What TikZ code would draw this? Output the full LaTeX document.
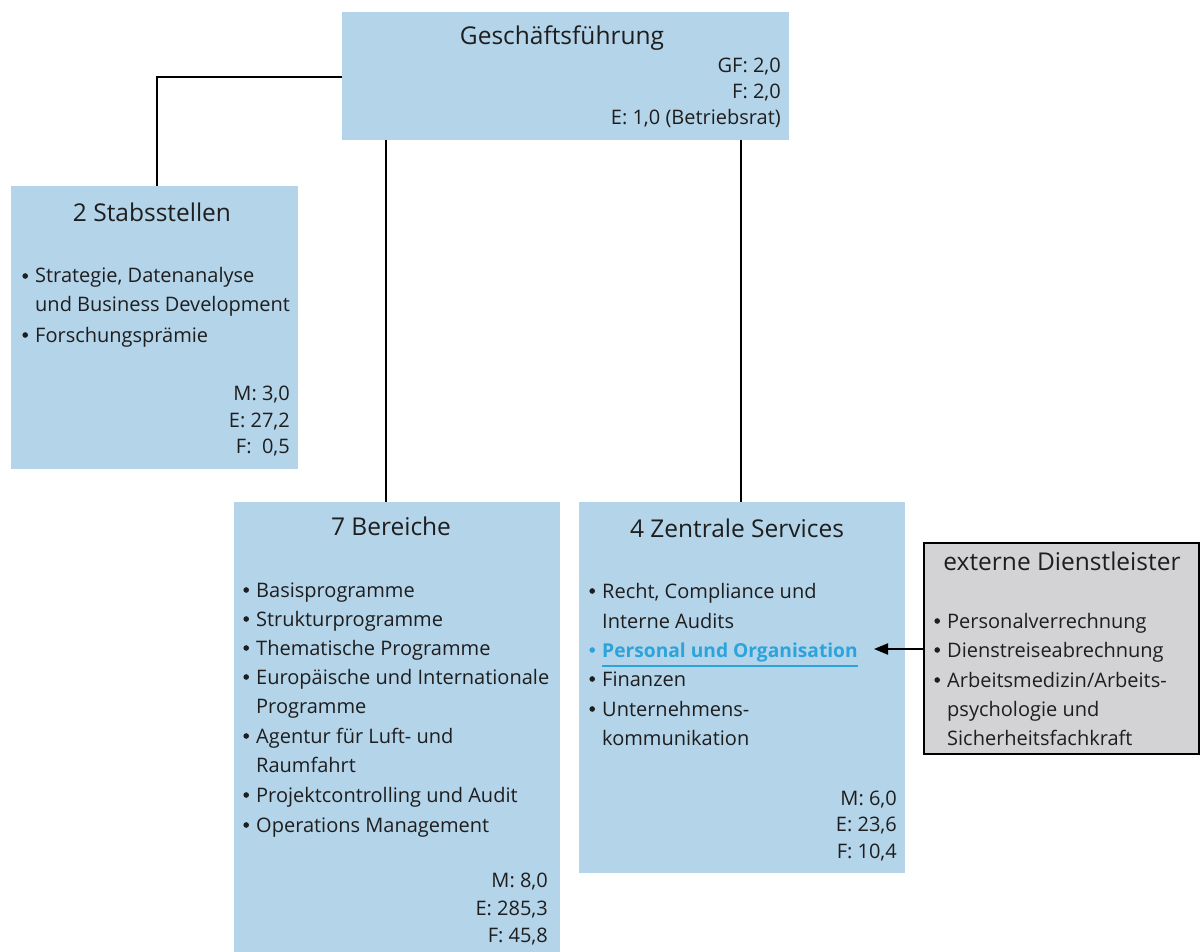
\documentclass[tikz,border=0pt]{standalone}
\usepackage{fontspec}
\setmainfont{Open Sans}
\usetikzlibrary{arrows.meta}
\definecolor{boxblue}{HTML}{B4D4EA}
\definecolor{boxgrey}{HTML}{D3D3D5}
\definecolor{hl}{HTML}{2BA3DB}
\definecolor{ink}{HTML}{1E1E1E}
\tikzset{
  box/.style={fill=boxblue, draw=none, anchor=north west, inner sep=0pt},
  extbox/.style={fill=boxgrey, draw=black, line width=2pt, anchor=north west, inner sep=0pt},
  txt/.style={inner sep=0pt, anchor=base west, text=ink, font=\fontsize{20}{24}\selectfont},
  rtxt/.style={inner sep=0pt, anchor=base east, text=ink, font=\fontsize{20}{24}\selectfont},
  ttl/.style={inner sep=0pt, anchor=base, text=ink, font=\fontsize{24.5}{28}\selectfont},
  conn/.style={line width=2pt, draw=black},
}
\newcommand{\dotmark}[1]{\llap{\tikz[baseline=0pt]\fill[#1] (0pt,7pt) circle[radius=2.8pt];\hspace{7.2pt}}}
\newcommand{\bulmark}[1]{\ifnum#1=1\dotmark{ink}\fi}
\begin{document}
\begin{tikzpicture}[x=1pt,y=-1pt]
\useasboundingbox (0,0) rectangle (1200,952);
% boxes
\node[box, minimum width=447, minimum height=128] (gf) at (342,12) {};
\node[box, minimum width=287, minimum height=283] (stab) at (11,186) {};
\node[box, minimum width=326, minimum height=451] (ber) at (234,502) {};
\node[box, minimum width=326, minimum height=371] (zs) at (579,502) {};
\node[extbox, minimum width=275, minimum height=211] (ext) at (923,542) {};
% connectors
\coordinate (stabtop) at (157,186);
\coordinate (gfleft) at (342,77);
\draw[conn] (gfleft) -| (stabtop);
\coordinate (gfb1) at (386,140);
\coordinate (gfb2) at (741,140);
\draw[conn] (gfb1) -- (gfb1 |- ber.north);
\draw[conn] (gfb2) -- (gfb2 |- zs.north);
\coordinate (arrtip) at (874,649);
\draw[conn, -{Triangle[length=14pt,width=11pt]}] (ext.west |- arrtip) -- (arrtip);
% GF
\node[ttl] (gft) at (562,45) {Geschäftsführung};
\node[rtxt] (gf1) at (781,73) {GF: 2,0};
\node[rtxt] (gf2) at (781,99) {F: 2,0};
\node[rtxt] (gf3) at (781,125) {E: 1,0 (Betriebsrat)};
% Stabsstellen
\node[ttl] (stabt) at (152,222) {2 Stabsstellen};
\foreach \y/\t/\b [count=\i] in {283/{Strategie, Datenanalyse}/1, 312/{und Business Development}/0, 342/{Forschungsprämie}/1}
  \node[txt] (stab\i) at (35,\y) {\bulmark{\b}\t};
\node[rtxt] (stabm) at (290,400) {M: 3,0};
\node[rtxt] (stabe) at (290,427) {E: 27,2};
\node[rtxt] (stabf) at (290,453) {F:\ \ 0,5};
% Bereiche
\node[ttl] (bert) at (391,535) {7 Bereiche};
\foreach \y/\t/\b [count=\i] in {597/Basisprogramme/1, 626/Strukturprogramme/1, 655/Thematische Programme/1, 684/Europäische und Internationale/1, 713/Programme/0, 743/Agentur für Luft- und/1, 772/Raumfahrt/0, 802/Projektcontrolling und Audit/1, 832/Operations Management/1}
  \node[txt] (ber\i) at (256,\y) {\bulmark{\b}\t};
\node[rtxt] (berm) at (548,887) {M: 8,0};
\node[rtxt] (bere) at (548,915) {E: 285,3};
\node[rtxt] (berf) at (548,942) {F: 45,8};
% Zentrale Services
\node[ttl] (zst) at (737,537) {4 Zentrale Services};
\foreach \y/\t/\b [count=\i] in {598/{Recht, Compliance und}/1, 628/Interne Audits/0, 686/Finanzen/1, 716/Unternehmens-/1, 745/kommunikation/0}
  \node[txt] (zs\i) at (602,\y) {\bulmark{\b}\t};
\node[txt, text=hl, font=\fontsize{19.2}{24}\selectfont\bfseries] (pers) at (602,657) {\dotmark{hl}Personal und Organisation};
\draw[hl, line width=2pt] ([yshift=-9pt]pers.base west) -- ([yshift=-9pt]pers.base east);
\node[rtxt] (zsm) at (897,805) {M: 6,0};
\node[rtxt] (zse) at (897,831) {E: 23,6};
\node[rtxt] (zsf) at (897,858) {F: 10,4};
% externe Dienstleister
\node[ttl] (extt) at (1062,570) {externe Dienstleister};
\foreach \y/\t/\b [count=\i] in {628/Personalverrechnung/1, 657/Dienstreiseabrechnung/1, 687/{Arbeitsmedizin\slash Arbeits-}/1, 716/psychologie und/0, 745/Sicherheitsfachkraft/0}
  \node[txt] (ext\i) at (947,\y) {\bulmark{\b}\t};
\end{tikzpicture}
\end{document}
